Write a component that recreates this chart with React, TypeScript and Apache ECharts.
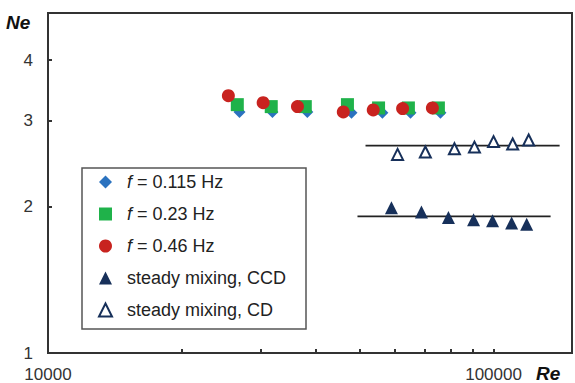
import React, { useEffect, useRef } from "react";
import * as echarts from "echarts";

const reF115 = [26900, 31900, 38200, 48000, 56300, 65100, 76000];
const neF115 = [3.13, 3.13, 3.13, 3.12, 3.12, 3.12, 3.12];

const reF23 = [26600, 31700, 37800, 47000, 55200, 64400, 75200];
const neF23 = [3.24, 3.21, 3.21, 3.24, 3.19, 3.19, 3.19];

const reF46 = [25400, 30400, 36300, 46000, 53700, 62500, 72900];
const neF46 = [3.38, 3.27, 3.21, 3.13, 3.16, 3.18, 3.19];

const reCCD = [59000, 68900, 79200, 90200, 99500, 109800, 118700];
const neCCD = [1.99, 1.95, 1.9, 1.88, 1.87, 1.85, 1.84];

const reCD = [60900, 70300, 81700, 90600, 100000, 110400, 119900];
const neCD = [2.56, 2.59, 2.63, 2.65, 2.72, 2.69, 2.74];

const fitCCDRe = [49500, 134300];
const fitCCDNe = [1.91, 1.91];
const fitCDRe = [51600, 140700];
const fitCDNe = [2.67, 2.67];

const names = [
  "f = 0.115 Hz",
  "f = 0.23 Hz",
  "f = 0.46 Hz",
  "steady mixing, CCD",
  "steady mixing, CD",
];

const xLabelValues = [10000, 100000];
const xTickValues = [20000, 30000, 40000, 50000, 60000, 70000, 80000, 90000, 100000];
const yLabelValues = [1, 2, 3, 4];
const yTickValues = [2, 3, 4];

const FONT = "'Liberation Sans', Arial, sans-serif";
const NAVY = "#17305a";

const pairs = (xs: number[], ys: number[]) => xs.map((x, i) => [x, ys[i]]);

export default function App() {
  const ref = useRef<HTMLDivElement>(null);
  useEffect(() => {
    if (!ref.current) return;
    const chart = echarts.init(ref.current, undefined, { renderer: "svg" });
    chart.setOption({
      animation: false,
      textStyle: { fontFamily: FONT },
      grid: {
        left: 48,
        right: 3,
        top: 13,
        bottom: 30,
        show: true,
        borderColor: "#333",
        borderWidth: 2,
        backgroundColor: "transparent",
      },
      xAxis: {
        type: "log",
        logBase: 10,
        min: 10000,
        max: 150000,
        splitLine: { show: false },
        axisLine: { show: true, lineStyle: { color: "#333", width: 2 } },
        axisTick: {
          show: true,
          inside: true,
          length: 4,
          customValues: xTickValues,
          lineStyle: { color: "#333", width: 2 },
        },
        minorTick: { show: false },
        axisLabel: {
          customValues: xLabelValues,
          margin: 13,
          fontSize: 17,
          color: "#333",
          fontFamily: FONT,
          formatter: (v: number) => String(Math.round(v)),
        },
      },
      yAxis: {
        type: "log",
        logBase: 10,
        min: 1,
        max: 5,
        splitLine: { show: false },
        axisLine: { show: true, lineStyle: { color: "#333", width: 2 } },
        axisTick: {
          show: true,
          inside: true,
          length: 4,
          customValues: yTickValues,
          lineStyle: { color: "#333", width: 2 },
        },
        axisLabel: {
          customValues: yLabelValues,
          margin: 15,
          fontSize: 17,
          color: "#333",
          fontFamily: FONT,
          formatter: (v: number) => String(Math.round(v)),
        },
      },
      legend: {
        data: names,
        orient: "vertical",
        left: 98,
        top: 173,
        padding: 0,
        itemWidth: 13,
        itemHeight: 13,
        itemGap: 14,
        selectedMode: false,
        formatter: (name: string) =>
          name.startsWith("f = ") ? "{i|f}" + name.slice(1) : name,
        textStyle: {
          fontSize: 18,
          lineHeight: 18,
          color: "#222",
          fontFamily: FONT,
          padding: [0, 0, 0, 10],
          rich: {
            i: { fontStyle: "italic", fontSize: 18, color: "#222", fontFamily: FONT },
          },
        },
      },
      graphic: [
        {
          type: "rect",
          shape: { x: 82, y: 168, width: 224, height: 161 },
          style: { fill: "transparent", stroke: "#555", lineWidth: 1.5 },
          silent: true,
        },
        {
          type: "text",
          left: 6,
          top: 13,
          style: {
            text: "Ne",
            fontSize: 19,
            fontWeight: "bold",
            fontStyle: "italic",
            fill: "#111",
            fontFamily: FONT,
          },
        },
        {
          type: "text",
          left: 536,
          top: 364,
          style: {
            text: "Re",
            fontSize: 19,
            fontWeight: "bold",
            fontStyle: "italic",
            fill: "#111",
            fontFamily: FONT,
          },
        },
      ],
      series: [
        {
          name: names[0],
          type: "scatter",
          symbol: "diamond",
          symbolSize: 12,
          itemStyle: { color: "#2b72bf", opacity: 1 },
          data: pairs(reF115, neF115),
        },
        {
          name: names[1],
          type: "scatter",
          symbol: "rect",
          symbolSize: 13,
          itemStyle: { color: "#1fb24a", opacity: 1 },
          data: pairs(reF23, neF23),
        },
        {
          name: names[2],
          type: "scatter",
          symbol: "circle",
          symbolSize: 13,
          itemStyle: { color: "#c8231f", opacity: 1 },
          data: pairs(reF46, neF46),
        },
        {
          name: names[3],
          type: "scatter",
          symbol: "triangle",
          symbolSize: 13,
          itemStyle: { color: NAVY, opacity: 1 },
          data: pairs(reCCD, neCCD),
        },
        {
          name: names[4],
          type: "scatter",
          symbol: "triangle",
          symbolSize: 11,
          itemStyle: { color: "#fff", borderColor: NAVY, borderWidth: 2, opacity: 1 },
          data: pairs(reCD, neCD),
        },
        {
          name: "fitCCD",
          type: "line",
          symbol: "none",
          silent: true,
          z: 1,
          lineStyle: { color: "#222", width: 1.8 },
          data: pairs(fitCCDRe, fitCCDNe),
        },
        {
          name: "fitCD",
          type: "line",
          symbol: "none",
          silent: true,
          z: 1,
          lineStyle: { color: "#222", width: 1.8 },
          data: pairs(fitCDRe, fitCDNe),
        },
      ],
    });
    return () => chart.dispose();
  }, []);
  return <div ref={ref} style={{ width: 575, height: 383, position: "absolute", left: 0, top: 0 }} />;
}
